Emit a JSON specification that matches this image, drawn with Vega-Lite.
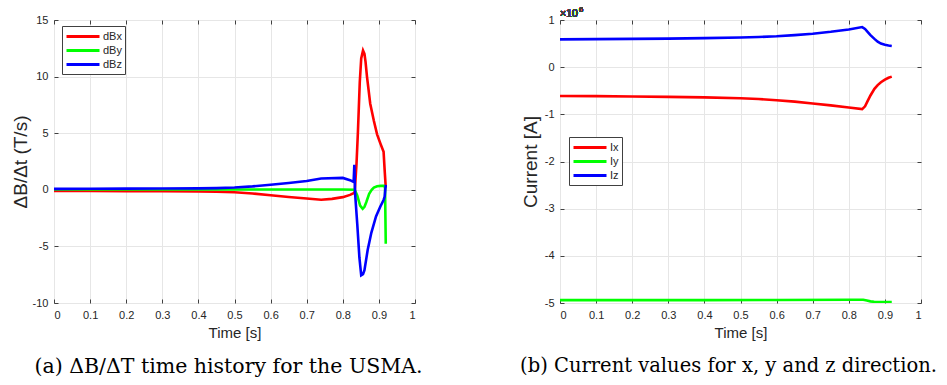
{
  "$schema": "https://vega.github.io/schema/vega-lite/v6.json",
  "background": "white",
  "padding": {"left": 10, "top": 5, "right": 0, "bottom": 0},
  "datasets": {
    "db": [
      {"t": 0, "series": "dBx", "v": -0.1},
      {"t": 0.1, "series": "dBx", "v": -0.1},
      {"t": 0.2, "series": "dBx", "v": -0.12},
      {"t": 0.3, "series": "dBx", "v": -0.13},
      {"t": 0.4, "series": "dBx", "v": -0.15},
      {"t": 0.45, "series": "dBx", "v": -0.17},
      {"t": 0.5, "series": "dBx", "v": -0.22},
      {"t": 0.55, "series": "dBx", "v": -0.33},
      {"t": 0.6, "series": "dBx", "v": -0.48},
      {"t": 0.65, "series": "dBx", "v": -0.63},
      {"t": 0.7, "series": "dBx", "v": -0.77},
      {"t": 0.74, "series": "dBx", "v": -0.88},
      {"t": 0.77, "series": "dBx", "v": -0.8},
      {"t": 0.8, "series": "dBx", "v": -0.65},
      {"t": 0.82, "series": "dBx", "v": -0.45},
      {"t": 0.83, "series": "dBx", "v": -0.3},
      {"t": 0.833, "series": "dBx", "v": -0.2},
      {"t": 0.838, "series": "dBx", "v": 2.3},
      {"t": 0.842, "series": "dBx", "v": 5.2},
      {"t": 0.847, "series": "dBx", "v": 9.5},
      {"t": 0.851, "series": "dBx", "v": 11.6},
      {"t": 0.856, "series": "dBx", "v": 12.3},
      {"t": 0.86, "series": "dBx", "v": 12.0},
      {"t": 0.863, "series": "dBx", "v": 11.3},
      {"t": 0.867, "series": "dBx", "v": 10.0},
      {"t": 0.876, "series": "dBx", "v": 7.6},
      {"t": 0.886, "series": "dBx", "v": 6.1},
      {"t": 0.895, "series": "dBx", "v": 4.9},
      {"t": 0.904, "series": "dBx", "v": 4.1},
      {"t": 0.913, "series": "dBx", "v": 3.35},
      {"t": 0.916, "series": "dBx", "v": 1.7},
      {"t": 0.919, "series": "dBx", "v": 0.2},
      {"t": 0, "series": "dBy", "v": 0.02},
      {"t": 0.5, "series": "dBy", "v": 0.03},
      {"t": 0.8, "series": "dBy", "v": 0.02},
      {"t": 0.833, "series": "dBy", "v": 0.0},
      {"t": 0.84, "series": "dBy", "v": -0.5},
      {"t": 0.848, "series": "dBy", "v": -1.4},
      {"t": 0.855, "series": "dBy", "v": -1.68},
      {"t": 0.86, "series": "dBy", "v": -1.5},
      {"t": 0.865, "series": "dBy", "v": -1.1},
      {"t": 0.873, "series": "dBy", "v": -0.35},
      {"t": 0.88, "series": "dBy", "v": 0.0},
      {"t": 0.886, "series": "dBy", "v": 0.2},
      {"t": 0.895, "series": "dBy", "v": 0.32},
      {"t": 0.905, "series": "dBy", "v": 0.35},
      {"t": 0.914, "series": "dBy", "v": 0.35},
      {"t": 0.917, "series": "dBy", "v": 0.2},
      {"t": 0.919, "series": "dBy", "v": -4.76},
      {"t": 0, "series": "dBz", "v": 0.08},
      {"t": 0.1, "series": "dBz", "v": 0.09},
      {"t": 0.2, "series": "dBz", "v": 0.1},
      {"t": 0.3, "series": "dBz", "v": 0.11},
      {"t": 0.4, "series": "dBz", "v": 0.13},
      {"t": 0.45, "series": "dBz", "v": 0.15},
      {"t": 0.5, "series": "dBz", "v": 0.2},
      {"t": 0.55, "series": "dBz", "v": 0.3},
      {"t": 0.6, "series": "dBz", "v": 0.45},
      {"t": 0.65, "series": "dBz", "v": 0.6},
      {"t": 0.7, "series": "dBz", "v": 0.78},
      {"t": 0.74, "series": "dBz", "v": 1.0},
      {"t": 0.8, "series": "dBz", "v": 1.05},
      {"t": 0.82, "series": "dBz", "v": 0.85},
      {"t": 0.83, "series": "dBz", "v": 0.7},
      {"t": 0.832, "series": "dBz", "v": 2.2},
      {"t": 0.834, "series": "dBz", "v": -0.3},
      {"t": 0.84, "series": "dBz", "v": -3.0},
      {"t": 0.846, "series": "dBz", "v": -6.0},
      {"t": 0.851, "series": "dBz", "v": -7.55},
      {"t": 0.856, "series": "dBz", "v": -7.45},
      {"t": 0.86, "series": "dBz", "v": -7.1},
      {"t": 0.869, "series": "dBz", "v": -5.3},
      {"t": 0.879, "series": "dBz", "v": -3.8},
      {"t": 0.892, "series": "dBz", "v": -2.35},
      {"t": 0.904, "series": "dBz", "v": -1.47},
      {"t": 0.913, "series": "dBz", "v": -0.9},
      {"t": 0.916, "series": "dBz", "v": -0.6},
      {"t": 0.919, "series": "dBz", "v": 0.44}
    ],
    "cur": [
      {"t": 0, "series": "Ix", "v": -610000},
      {"t": 0.1, "series": "Ix", "v": -615000},
      {"t": 0.2, "series": "Ix", "v": -622000},
      {"t": 0.3, "series": "Ix", "v": -630000},
      {"t": 0.4, "series": "Ix", "v": -640000},
      {"t": 0.5, "series": "Ix", "v": -660000},
      {"t": 0.55, "series": "Ix", "v": -675000},
      {"t": 0.6, "series": "Ix", "v": -700000},
      {"t": 0.65, "series": "Ix", "v": -730000},
      {"t": 0.7, "series": "Ix", "v": -770000},
      {"t": 0.75, "series": "Ix", "v": -810000},
      {"t": 0.8, "series": "Ix", "v": -855000},
      {"t": 0.837, "series": "Ix", "v": -890000},
      {"t": 0.845, "series": "Ix", "v": -830000},
      {"t": 0.852, "series": "Ix", "v": -720000},
      {"t": 0.86, "series": "Ix", "v": -600000},
      {"t": 0.871, "series": "Ix", "v": -460000},
      {"t": 0.88, "series": "Ix", "v": -380000},
      {"t": 0.889, "series": "Ix", "v": -320000},
      {"t": 0.9, "series": "Ix", "v": -265000},
      {"t": 0.91, "series": "Ix", "v": -225000},
      {"t": 0.919, "series": "Ix", "v": -200000},
      {"t": 0, "series": "Iy", "v": -4940000},
      {"t": 0.2, "series": "Iy", "v": -4940000},
      {"t": 0.4, "series": "Iy", "v": -4940000},
      {"t": 0.6, "series": "Iy", "v": -4935000},
      {"t": 0.8, "series": "Iy", "v": -4930000},
      {"t": 0.84, "series": "Iy", "v": -4930000},
      {"t": 0.85, "series": "Iy", "v": -4945000},
      {"t": 0.86, "series": "Iy", "v": -4965000},
      {"t": 0.87, "series": "Iy", "v": -4975000},
      {"t": 0.9, "series": "Iy", "v": -4980000},
      {"t": 0.919, "series": "Iy", "v": -4980000},
      {"t": 0, "series": "Iz", "v": 590000},
      {"t": 0.1, "series": "Iz", "v": 595000},
      {"t": 0.2, "series": "Iz", "v": 600000},
      {"t": 0.3, "series": "Iz", "v": 605000},
      {"t": 0.4, "series": "Iz", "v": 615000},
      {"t": 0.5, "series": "Iz", "v": 630000},
      {"t": 0.55, "series": "Iz", "v": 640000},
      {"t": 0.6, "series": "Iz", "v": 655000},
      {"t": 0.65, "series": "Iz", "v": 680000},
      {"t": 0.7, "series": "Iz", "v": 710000},
      {"t": 0.75, "series": "Iz", "v": 750000},
      {"t": 0.8, "series": "Iz", "v": 800000},
      {"t": 0.837, "series": "Iz", "v": 850000},
      {"t": 0.845, "series": "Iz", "v": 810000},
      {"t": 0.852, "series": "Iz", "v": 750000},
      {"t": 0.86, "series": "Iz", "v": 680000},
      {"t": 0.871, "series": "Iz", "v": 600000},
      {"t": 0.88, "series": "Iz", "v": 540000},
      {"t": 0.889, "series": "Iz", "v": 500000},
      {"t": 0.9, "series": "Iz", "v": 475000},
      {"t": 0.91, "series": "Iz", "v": 460000},
      {"t": 0.919, "series": "Iz", "v": 450000}
    ]
  },
  "config": {
    "view": {"stroke": "#404040", "strokeWidth": 1},
    "font": "Liberation Sans",
    "axis": {
      "labelFont": "Liberation Sans",
      "labelFontSize": 11,
      "labelColor": "#262626",
      "labelOverlap": false,
      "titleFont": "Liberation Sans",
      "titleFontWeight": "normal",
      "titleColor": "#262626",
      "gridColor": "#e6e6e6",
      "domain": false,
      "tickColor": "#404040",
      "tickSize": -4,
      "labelPadding": 10
    },
    "legend": {
      "labelFont": "Liberation Sans",
      "labelFontSize": 11,
      "labelColor": "#262626",
      "symbolType": "M-1,0H4.5",
      "symbolStrokeWidth": 3,
      "symbolSize": 144,
      "fillColor": "white",
      "strokeColor": "#404040",
      "padding": 3,
      "rowPadding": 0,
      "labelOffset": 23
    },
    "title": {
      "font": "DejaVu Serif",
      "fontSize": 19.5,
      "fontWeight": "normal",
      "color": "#000000",
      "orient": "bottom",
      "anchor": "middle",
      "offset": 17
    }
  },
  "spacing": 95,
  "resolve": {"scale": {"color": "independent"}, "legend": {"color": "independent"}},
  "hconcat": [
    {
      "width": 361,
      "height": 283,
      "title": {"text": "(a) ΔB/ΔT time history for the USMA.", "dx": -6, "fontSize": 20.5},
      "data": {"name": "db"},
      "resolve": {"axis": {"x": "independent", "y": "independent"}},
      "layer": [
        {
          "mark": {"type": "line", "strokeWidth": 2.6, "clip": true},
          "encoding": {
            "x": {
              "field": "t", "type": "quantitative",
              "scale": {"domain": [0, 1]},
              "axis": {"values": [0, 0.1, 0.2, 0.3, 0.4, 0.5, 0.6, 0.7, 0.8, 0.9, 1], "labelExpr": "'' + datum.value", "title": "Time [s]", "titleFontSize": 15, "titlePadding": 5}
            },
            "y": {
              "field": "v", "type": "quantitative",
              "scale": {"domain": [-10, 15]},
              "axis": {"values": [-10, -5, 0, 5, 10, 15], "labelExpr": "'' + datum.value", "title": "ΔB/Δt (T/s)", "titleFontSize": 19, "titlePadding": 2}
            },
            "color": {
              "field": "series", "type": "nominal",
              "scale": {"domain": ["dBx", "dBy", "dBz"], "range": ["#ff0000", "#00ff00", "#0000ff"]},
              "legend": {"title": null, "orient": "none", "legendX": 8, "legendY": 6}
            }
          }
        },
        {
          "mark": {"type": "line", "opacity": 0},
          "encoding": {
            "x": {"field": "t", "type": "quantitative", "scale": {"domain": [0, 1]}, "axis": {"orient": "top", "values": [0, 0.1, 0.2, 0.3, 0.4, 0.5, 0.6, 0.7, 0.8, 0.9, 1], "labels": false, "grid": false, "title": null}},
            "y": {"field": "v", "type": "quantitative", "scale": {"domain": [-10, 15]}, "axis": {"orient": "right", "values": [-10, -5, 0, 5, 10, 15], "labels": false, "grid": false, "title": null}}
          }
        }
      ]
    },
    {
      "width": 361,
      "height": 283,
      "title": {"text": "(b) Current values for x, y and z direction.", "dx": -12},
      "data": {"name": "cur"},
      "resolve": {"axis": {"x": "independent", "y": "independent"}},
      "layer": [
        {
          "mark": {"type": "line", "strokeWidth": 2.6, "clip": true},
          "encoding": {
            "x": {
              "field": "t", "type": "quantitative",
              "scale": {"domain": [0, 1]},
              "axis": {"values": [0, 0.1, 0.2, 0.3, 0.4, 0.5, 0.6, 0.7, 0.8, 0.9, 1], "labelExpr": "'' + datum.value", "title": "Time [s]", "titleFontSize": 15, "titlePadding": 5}
            },
            "y": {
              "field": "v", "type": "quantitative",
              "scale": {"domain": [-5000000, 1000000]},
              "axis": {"values": [-5000000, -4000000, -3000000, -2000000, -1000000, 0, 1000000], "labelExpr": "'' + (datum.value / 1000000)", "title": "Current [A]", "titleFontSize": 19, "titlePadding": 4}
            },
            "color": {
              "field": "series", "type": "nominal",
              "scale": {"domain": ["Ix", "Iy", "Iz"], "range": ["#ff0000", "#00ff00", "#0000ff"]},
              "legend": {"title": null, "orient": "none", "legendX": 9, "legendY": 117}
            }
          }
        },
        {
          "mark": {"type": "line", "opacity": 0},
          "encoding": {
            "x": {"field": "t", "type": "quantitative", "scale": {"domain": [0, 1]}, "axis": {"orient": "top", "values": [0, 0.1, 0.2, 0.3, 0.4, 0.5, 0.6, 0.7, 0.8, 0.9, 1], "labels": false, "grid": false, "title": null}},
            "y": {"field": "v", "type": "quantitative", "scale": {"domain": [-5000000, 1000000]}, "axis": {"orient": "right", "values": [-5000000, -4000000, -3000000, -2000000, -1000000, 0, 1000000], "labels": false, "grid": false, "title": null}}
          }
        },
        {
          "mark": {"type": "text", "text": "×10", "align": "left", "baseline": "alphabetic", "dy": -3, "fontSize": 10.5, "color": "#404040", "font": "Liberation Sans"},
          "encoding": {
            "x": {"datum": 0, "type": "quantitative", "scale": {"domain": [0, 1]}, "axis": null},
            "y": {"datum": 1000000, "type": "quantitative", "scale": {"domain": [-5000000, 1000000]}, "axis": null}
          }
        },
        {
          "mark": {"type": "text", "text": "6", "align": "left", "baseline": "alphabetic", "dx": 19, "dy": -8, "fontSize": 7.5, "color": "#404040", "font": "Liberation Sans"},
          "encoding": {
            "x": {"datum": 0, "type": "quantitative", "scale": {"domain": [0, 1]}, "axis": null},
            "y": {"datum": 1000000, "type": "quantitative", "scale": {"domain": [-5000000, 1000000]}, "axis": null}
          }
        }
      ]
    }
  ]
}
